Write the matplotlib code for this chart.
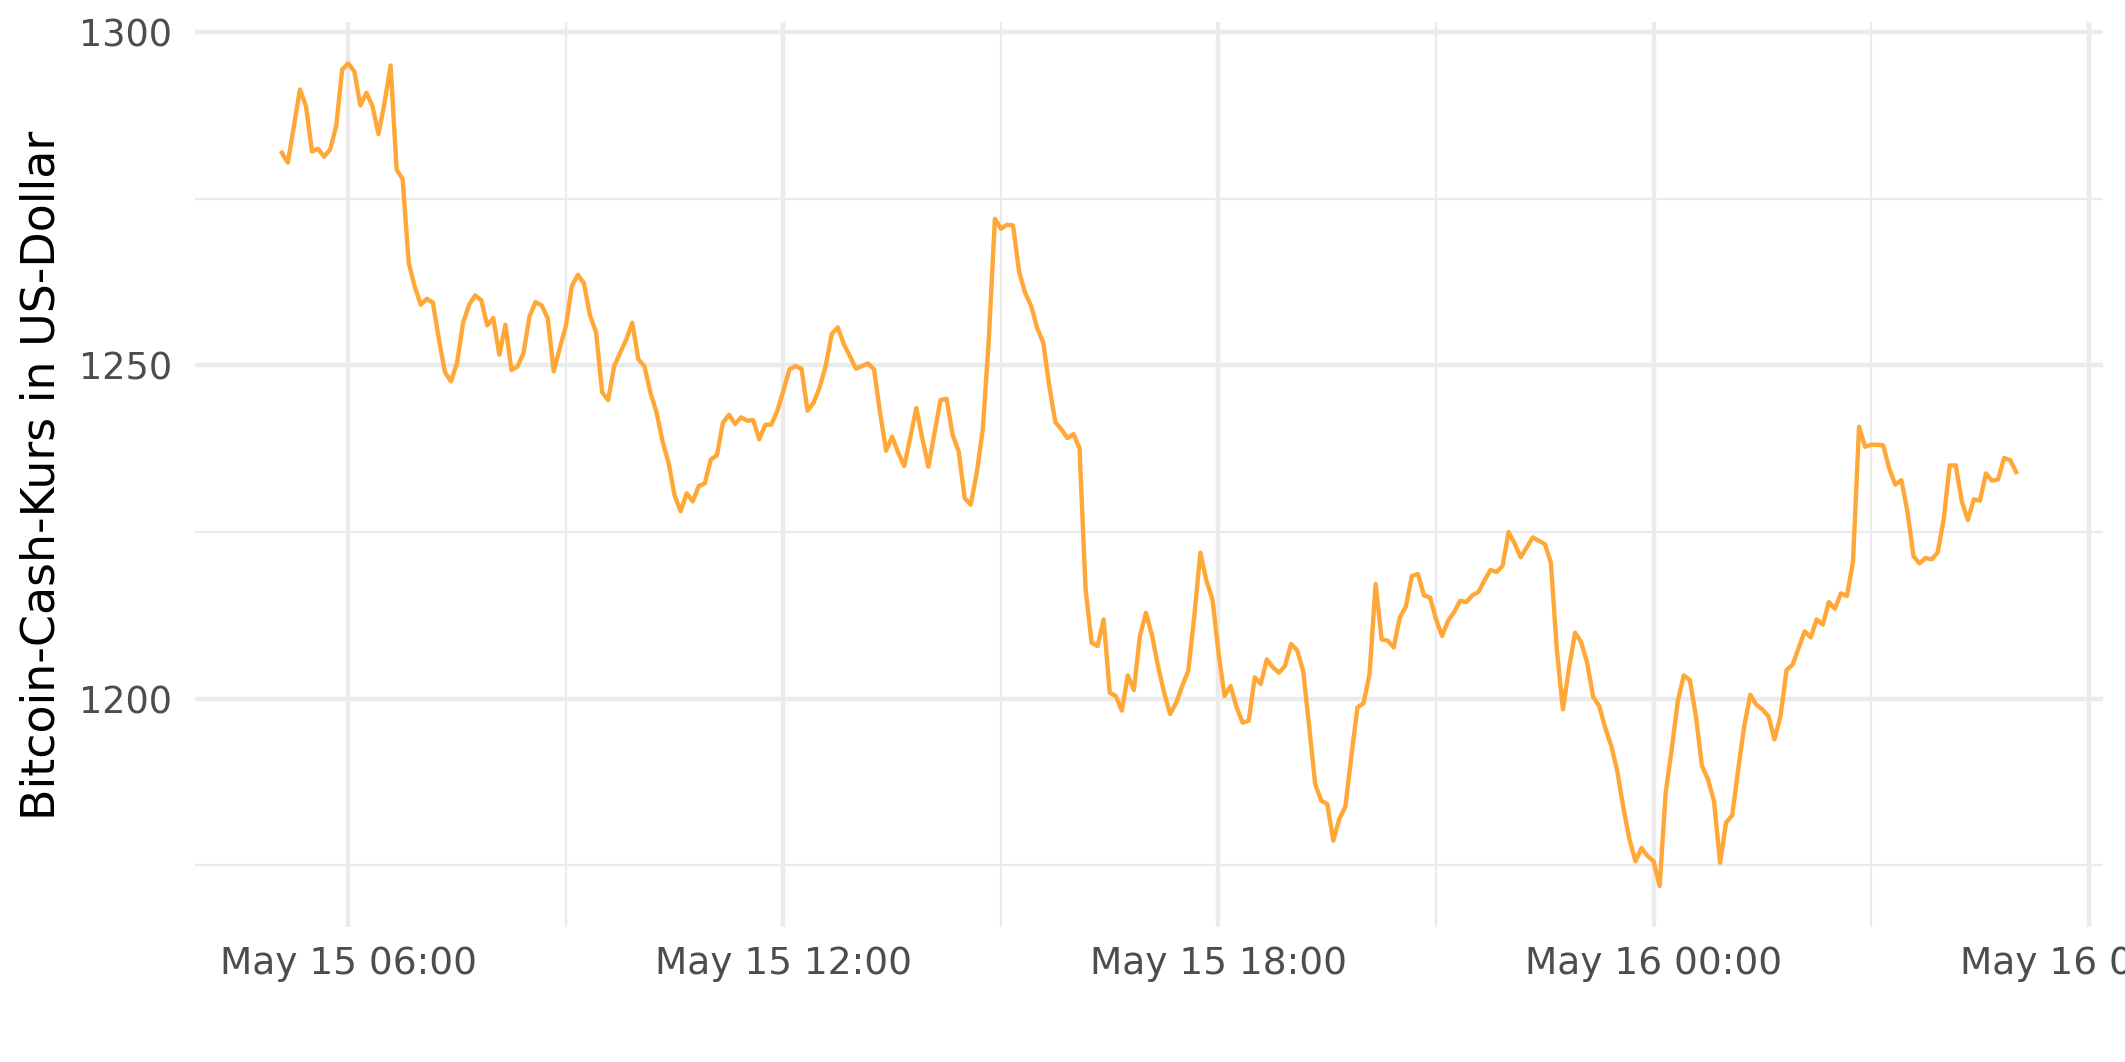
import matplotlib
matplotlib.use("Agg")
import matplotlib.pyplot as plt
import matplotlib.dates as mdates
import pandas as pd

# 5-minute Bitcoin Cash prices, 15 May 2018 05:05 to 16 May 2018 05:00
start_time = "2018-05-15 05:05"

prices_0505_1100 = [
    1281.9, 1280.4, 1285.9, 1291.4, 1288.9, 1282.1, 1282.5, 1281.3, 1282.4, 1285.9, 1294.4,
    1295.3, 1294.1, 1289.0, 1290.9, 1288.9, 1284.7, 1289.4, 1295.0, 1279.4, 1277.9, 1265.4, 1261.8,
    1259.1, 1260.0, 1259.4, 1253.9, 1249.0, 1247.6, 1250.4, 1256.4, 1259.1, 1260.5, 1259.8, 1256.0,
    1257.1, 1251.6, 1256.1, 1249.3, 1249.8, 1251.9, 1257.4, 1259.5, 1259.0, 1257.1, 1249.1, 1252.6,
    1255.9, 1261.9, 1263.6, 1262.3, 1257.5, 1255.0, 1246.0, 1244.8, 1249.9, 1251.9, 1253.9, 1256.4,
    1250.9, 1249.9, 1245.9, 1243.0, 1238.6, 1235.4, 1230.5, 1228.1, 1230.8, 1229.6, 1231.9, 1232.3,
    1235.9,
]
prices_1105_1700 = [
    1236.5, 1241.4, 1242.6, 1241.2, 1242.2, 1241.7, 1241.8, 1238.9, 1241.1, 1241.1, 1243.2,
    1246.2, 1249.4, 1249.9, 1249.5, 1243.2, 1244.4, 1246.7, 1249.9, 1254.7, 1255.7, 1253.2, 1251.4,
    1249.5, 1249.9, 1250.3, 1249.4, 1242.9, 1237.2, 1239.3, 1236.9, 1234.9, 1239.2, 1243.6, 1239.0,
    1234.8, 1239.8, 1244.8, 1245.0, 1239.6, 1237.1, 1230.1, 1229.1, 1233.9, 1240.4, 1254.0, 1272.0,
    1270.5, 1271.1, 1271.0, 1264.1, 1260.9, 1258.9, 1255.6, 1253.4, 1246.9, 1241.5, 1240.4, 1239.1,
    1239.7, 1237.6, 1216.5, 1208.4, 1207.9, 1211.9, 1200.9, 1200.4, 1198.2, 1203.5, 1201.3, 1209.4,
    1212.9,
]
prices_1705_2300 = [
    1209.5, 1204.9, 1200.9, 1197.7, 1199.4, 1201.9, 1204.2, 1212.4, 1221.9, 1217.7, 1214.9,
    1206.9, 1200.4, 1201.9, 1198.7, 1196.4, 1196.7, 1203.2, 1202.2, 1205.9, 1204.7, 1203.9, 1204.9,
    1208.2, 1207.3, 1204.2, 1195.9, 1187.2, 1184.7, 1184.2, 1178.7, 1182.0, 1183.8, 1191.5, 1198.7,
    1199.3, 1203.7, 1217.2, 1208.9, 1208.7, 1207.7, 1212.2, 1213.8, 1218.4, 1218.7, 1215.5, 1215.2,
    1211.9, 1209.4, 1211.7, 1213.0, 1214.7, 1214.5, 1215.5, 1216.0, 1217.7, 1219.3, 1219.0, 1219.9,
    1225.0, 1223.3, 1221.2, 1222.7, 1224.2, 1223.7, 1223.2, 1220.4, 1207.2, 1198.4, 1204.6, 1209.9,
    1208.5,
]
prices_2305_0500 = [
    1205.4, 1200.3, 1198.9, 1195.6, 1192.9, 1189.1, 1183.6, 1178.9, 1175.6, 1177.6, 1176.4,
    1175.6, 1171.9, 1185.9, 1192.4, 1199.6, 1203.5, 1202.8, 1197.4, 1189.9, 1187.9, 1184.6, 1175.4,
    1181.4, 1182.5, 1189.4, 1195.9, 1200.6, 1199.1, 1198.4, 1197.4, 1193.9, 1197.4, 1204.3, 1205.1,
    1207.6, 1210.1, 1209.2, 1211.9, 1211.1, 1214.5, 1213.5, 1215.8, 1215.4, 1220.6, 1240.8, 1237.8,
    1238.1, 1238.1, 1238.0, 1234.5, 1232.1, 1232.8, 1228.1, 1221.4, 1220.3, 1221.1, 1220.9, 1221.9,
    1226.9, 1235.0, 1235.0, 1229.6, 1226.8, 1229.9, 1229.7, 1233.8, 1232.7, 1232.9, 1236.1, 1235.8,
    1234.0,
]

y_major = [1200, 1250, 1300]
y_minor = [1175, 1225, 1275]
y_title = "Bitcoin-Cash-Kurs in US-Dollar"

prices = prices_0505_1100 + prices_1105_1700 + prices_1705_2300 + prices_2305_0500
times = pd.date_range(start_time, periods=len(prices), freq="5min")

fig = plt.figure(figsize=(2125 / 300, 1062 / 300), dpi=300)
ax = fig.add_axes([0.0918, 0.127, 0.8978, 0.852])

ax.plot(times, prices, color="#FFA837", lw=1.05, zorder=3)
ax.margins(x=0.05, y=0.05)

ax.xaxis.set_major_locator(mdates.HourLocator(byhour=[0, 6, 12, 18]))
ax.xaxis.set_minor_locator(mdates.HourLocator(byhour=[3, 9, 15, 21]))
ax.xaxis.set_major_formatter(mdates.DateFormatter("%b %d %H:%M"))
ax.set_yticks(y_major)
ax.set_yticks(y_minor, minor=True)

ax.grid(which="major", color="#EBEBEB", lw=1.07)
ax.grid(which="minor", color="#EBEBEB", lw=0.53)
ax.set_axisbelow(True)
for s in ax.spines.values():
    s.set_visible(False)
ax.tick_params(which="both", length=0)
ax.tick_params(axis="x", labelsize=9.0, labelcolor="#4D4D4D", pad=4.5)
ax.tick_params(axis="y", labelsize=8.8, labelcolor="#4D4D4D", pad=5.5)

fig.text(42 / 2125, 1 - 475 / 1062, y_title, rotation=90, ha="center", va="center",
         fontsize=11, color="black")

fig.savefig("out.png", dpi=300, facecolor="white")
